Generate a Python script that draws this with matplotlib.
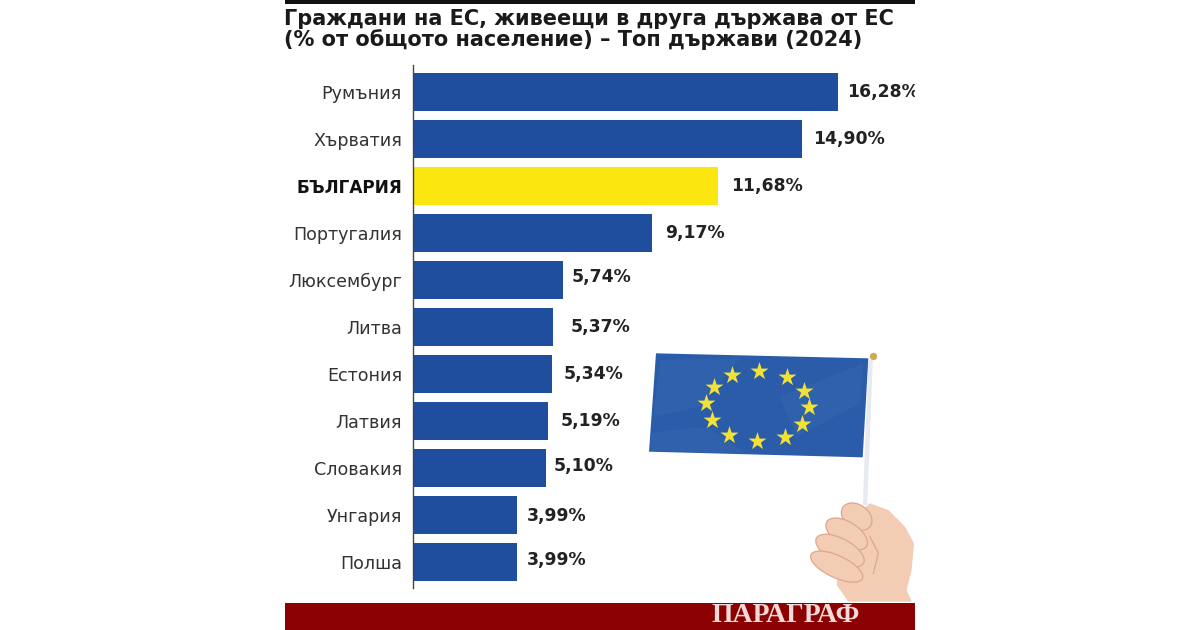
"""EU citizens living in another EU country, top countries (2024), horizontal bars."""

import matplotlib

matplotlib.use("Agg")
import matplotlib.pyplot as plt
from matplotlib.patches import Ellipse, Polygon, Rectangle

COUNTRIES = ["Румъния", "Хърватия", "БЪЛГАРИЯ", "Португалия", "Люксембург", "Литва",
             "Естония", "Латвия", "Словакия", "Унгария", "Полша"]
VALUES = [16.28, 14.90, 11.68, 9.17, 5.74, 5.37, 5.34, 5.19, 5.10, 3.99, 3.99]
VALUE_LABELS = ["16,28%", "14,90%", "11,68%", "9,17%", "5,74%", "5,37%",
                "5,34%", "5,19%", "5,10%", "3,99%", "3,99%"]
TITLE_LINES = ["Граждани на ЕС, живеещи в друга държава от ЕС",
               "(% от общото население) – Топ държави (2024)"]
BRAND = "ПАРАГРАФ"

BLUE = "#1F4E9E"
YELLOW = "#FBE70F"
DARK_RED = "#8B0000"
SKIN = "#F2CDB4"
SKIN_DARK = "#DDA78C"
HIGHLIGHT = "БЪЛГАРИЯ"

# label nudges in px, the source labels sit a bit unevenly
LABEL_DX = [9, 11, 13, 13, 9, 17, 11, 12, 8, 10, 10]
LABEL_DY = [0, 0, 0, 0, -3, 0, 0, 0, -2, 1, -2]

W, H = 1200, 630
PX_PER_UNIT = 26.1


def px_axes(fig, left, top, right, bottom):
    return fig.add_axes([left / W, 1 - bottom / H, (right - left) / W, (bottom - top) / H])


def zx(v):
    return 640 + v / 3


def zy(v):
    return 340 + v / 3


def draw_bars(fig):
    ax = px_axes(fig, 413, 65, 915, 588)
    y = list(range(len(COUNTRIES)))
    colors = [YELLOW if c == HIGHLIGHT else BLUE for c in COUNTRIES]
    ax.barh(y, VALUES, height=0.79, color=colors)
    ax.set_xlim(0, 502 / PX_PER_UNIT)
    ax.set_ylim(10.553, -0.574)
    ax.set_yticks(y)
    ax.set_yticklabels(COUNTRIES, fontsize=12.6, color="#333333")
    ax.tick_params(axis="y", length=0, pad=8)
    ax.set_xticks([])
    for tick, name in zip(ax.get_yticklabels(), COUNTRIES):
        if name == HIGHLIGHT:
            tick.set_fontweight("bold")
            tick.set_fontsize(12.2)
            tick.set_color("#111111")
    for side in ("top", "right", "bottom"):
        ax.spines[side].set_visible(False)
    ax.spines["left"].set_color("#444444")
    ax.spines["left"].set_linewidth(1.0)
    for i, (val, lab) in enumerate(zip(VALUES, VALUE_LABELS)):
        ax.annotate(lab, xy=(val, i), xytext=(LABEL_DX[i] * 0.72, LABEL_DY[i] * -0.72),
                    textcoords="offset points", va="center", ha="left",
                    fontsize=12.4, fontweight="bold", color="#222222",
                    annotation_clip=False, clip_on=True)


def draw_flag(ov):
    corners = [(48, 40), (685, 55), (668, 352), (27, 335)]
    ov.add_patch(Polygon([(zx(a), zy(b)) for a, b in corners], fc="#2A5CAA", ec="none"))
    # soft folds in the cloth
    folds = [[(60, 60), (300, 55), (180, 200), (40, 230)],
             [(420, 170), (670, 70), (660, 190), (470, 290)],
             [(30, 280), (200, 260), (320, 340), (30, 332)]]
    for fold in folds:
        ov.add_patch(Polygon([(zx(a), zy(b)) for a, b in fold], fc="#4A78BE", ec="none", alpha=0.18))
    stars = [(277, 105), (358, 93), (440, 110), (492, 152), (507, 202), (487, 252),
             (435, 290), (350, 303), (266, 285), (216, 241), (199, 190), (221, 142)]
    ov.scatter([zx(a) for a, b in stars], [zy(b) for a, b in stars], marker="*", s=185,
               color="#F3E234", linewidths=0, zorder=3)
    # stick and knob
    ov.plot([zx(692), zx(675)], [zy(60), zy(495)], color="#E8EAF2", lw=3.2, solid_capstyle="butt")
    ov.scatter([zx(700)], [zy(47)], s=28, color="#D0A850", linewidths=0, zorder=3)


def draw_hand(ov):
    palm = [(690, 490), (745, 510), (795, 560), (822, 610), (815, 690), (800, 750), (815, 785),
            (625, 785), (590, 735), (600, 640), (640, 530)]
    ov.add_patch(Polygon([(zx(a), zy(b)) for a, b in palm], fc=SKIN, ec="none", zorder=4))
    # four curled fingers, top to bottom: centre x, centre y, length, thickness, angle
    fingers = [(650, 530, 100, 72, 35), (620, 582, 140, 72, 32),
               (600, 632, 160, 72, 28), (590, 680, 170, 66, 25)]
    for cx, cy, length, thick, angle in fingers:
        ov.add_patch(Ellipse((zx(cx), zy(cy)), length / 3, thick / 3, angle=angle,
                             fc=SKIN, ec=SKIN_DARK, lw=0.9, zorder=5))
    ov.plot([zx(690), zx(715), zx(700)], [zy(590), zy(640), zy(700)], color=SKIN_DARK,
            lw=0.9, zorder=6)


def main():
    fig = plt.figure(figsize=(W / 100, H / 100), dpi=100, facecolor="white")
    draw_bars(fig)

    ov = px_axes(fig, 0, 0, W, H)
    ov.set_xlim(0, W)
    ov.set_ylim(H, 0)
    ov.axis("off")
    ov.patch.set_alpha(0)

    ov.add_patch(Rectangle((285, 0), 630, 3.5, fc="#111111", ec="none"))
    ov.add_patch(Rectangle((285, 603), 630, 27, fc=DARK_RED, ec="none"))
    for line, yc in zip(TITLE_LINES, (19, 40)):
        ov.text(284, yc, line, fontsize=15, fontweight="bold", color="#1A1A1A",
                ha="left", va="center")
    ov.text(786, 616, BRAND, family="Liberation Serif", fontsize=20, fontweight="bold",
            color="#F3D9D9", ha="center", va="center")

    draw_flag(ov)
    draw_hand(ov)

    fig.savefig("out.png", dpi=100, facecolor="white")
    plt.close(fig)


if __name__ == "__main__":
    main()
